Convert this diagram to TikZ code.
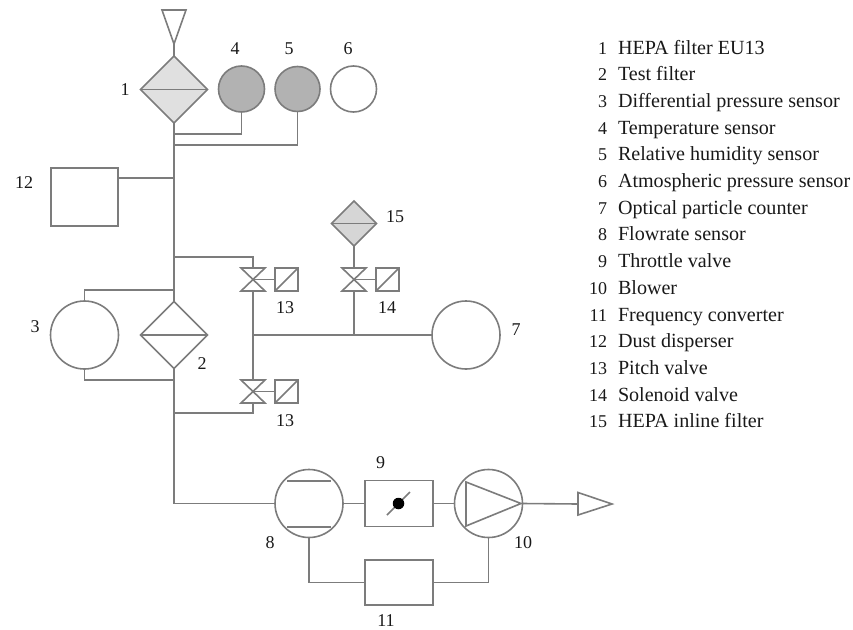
\documentclass[tikz,border=0pt]{standalone}
\usepackage{fontspec}
\setmainfont{Liberation Serif}
\usetikzlibrary{shapes.geometric,calc}
\definecolor{ln}{HTML}{7C7C7C}
\definecolor{lt}{HTML}{E0E0E0}
\definecolor{dk}{HTML}{B2B2B2}
\definecolor{md}{HTML}{D6D6D6}
\tikzset{
  every node/.style={inner sep=0pt,outer sep=0pt},
  wire/.style={draw=ln,line width=1.6pt,line join=miter},
  sym/.style={wire,fill=white},
  dia/.style={sym,diamond,shape aspect=1,minimum width=#1,minimum height=#1},
  circ/.style={sym,circle,minimum size=#1},
  boxn/.style={sym,rectangle,minimum width=#1},
  lab/.style={font=\fontsize{18}{20}\selectfont,text=black!90},
  legtext/.style={font=\fontsize{20.1}{22}\selectfont,text=black!90}
}
\newcommand{\valvesym}[1]{%
  \draw[wire] ($(#1)+(-12,-11.5)$) -- ($(#1)+(12,-11.5)$) -- ($(#1)+(-12,11.5)$) -- ($(#1)+(12,11.5)$) -- cycle;
}
\newcommand{\actsym}[1]{%
  \draw[wire] (#1.south west) -- (#1.north east);
}
\begin{document}
\begin{tikzpicture}[x=1pt,y=-1pt]
\useasboundingbox (0,0) rectangle (853,629);
% filters and sensors
\node[dia=67pt,fill=lt] (d1) at (174,89.5) {};
\draw[wire] (d1.west) -- (d1.east);
\node[circ=46pt,fill=dk] (s4) at (241.5,89) {};
\node[circ=45pt,fill=dk] (s5) at (297.5,89) {};
\node[circ=46pt] (s6) at (353.5,89) {};
\node[boxn=67pt,minimum height=58pt] (b12) at (84.5,197) {};
\node[dia=67pt] (d2) at (174,335) {};
\draw[wire] (d2.west) -- (d2.east);
\node[circ=68pt] (s3) at (84.5,335) {};
\node[circ=68pt] (s7) at (466,335) {};
\node[dia=45pt,fill=md] (d15) at (354,223.5) {};
\draw[wire] (d15.west) -- (d15.east);
% top inlet triangle
\coordinate (tp) at (174,44);
\draw[wire] (162,10) -- (186,10) -- (tp) -- cycle;
\draw[wire] (tp) -- (d1.north);
% valves
\coordinate (v1) at (253,279.5);
\coordinate (v2) at (253,391.5);
\coordinate (v3) at (354,279.5);
\valvesym{v1}\valvesym{v2}\valvesym{v3}
\node[boxn=23pt,minimum height=23pt] (a1) at (286.5,279.5) {};
\node[boxn=23pt,minimum height=23pt] (a2) at (286.5,391.5) {};
\node[boxn=23pt,minimum height=23pt] (a3) at (387.5,279.5) {};
\actsym{a1}\actsym{a2}\actsym{a3}
\draw[wire] (v1) -- (a1.west);
\draw[wire] (v2) -- (a2.west);
\draw[wire] (v3) -- (a3.west);
% bottom train
\node[circ=68pt] (s8) at (309,503.5) {};
\draw[wire] (287,481) -- (331,481);
\draw[wire] (287,527) -- (331,527);
\node[boxn=68pt,minimum height=46pt] (b9) at (399,503.5) {};
\draw[wire] (387,515) -- (410,492);
\node[circle,fill=black,minimum size=11.5pt] (dot) at (398.5,503.5) {};
\node[circ=68pt] (s10) at (488.5,503.5) {};
\draw[wire] (466,482) -- (521,503.5) -- (466,526) -- cycle;
\node[boxn=68pt,minimum height=45pt] (b11) at (399,582.5) {};
\coordinate (ot) at (578,504);
\draw[wire] (578,492.5) -- (612,504) -- (578,515) -- cycle;
% connectors
\coordinate (j1) at (174,134);
\coordinate (j2) at (174,145);
\coordinate (j3) at (174,178);
\coordinate (j4) at (174,257);
\coordinate (j5) at (174,290);
\coordinate (j6) at (174,380);
\coordinate (j7) at (174,413);
\coordinate (j8) at (253,335);
\draw[wire] (d1.south) -- (d2.north);
\draw[wire] (d2.south) |- (s8.west);
\draw[wire] (j1) -| (s4.south);
\draw[wire] (j2) -| (s5.south);
\draw[wire] (j3) -- (b12.east |- j3);
\draw[wire] (j4) -| ($(v1)+(0,-11.5)$);
\draw[wire] ($(v1)+(0,11.5)$) -- ($(v2)+(0,-11.5)$);
\draw[wire] ($(v2)+(0,11.5)$) |- (j7);
\draw[wire] (s3.north) |- (j5);
\draw[wire] (s3.south) |- (j6);
\draw[wire] (j8) -- (s7.west);
\draw[wire] (d15.south) -- ($(v3)+(0,-11.5)$);
\draw[wire] ($(v3)+(0,11.5)$) -- (v3 |- j8);
\draw[wire] (s8.east) -- (b9.west);
\draw[wire] (b9.east) -- (s10.west);
\draw[wire] (s10.east) -- (ot);
\draw[wire] (s8.south) |- (b11.west);
\draw[wire] (b11.east) -| (s10.south);
% labels
\foreach \nm/\t/\x/\y in {n1/1/125/90,n4/4/235/49,n5/5/289/49,n6/6/348/49,n12/12/24/183,n3/3/35/327,n2/2/202/364,n13a/13/285/308,n14/14/387/308,n15/15/395/216.5,n7/7/516/330,n13b/13/285/421,n9/9/380.5/463,n8/8/270/543,n10/10/523/543,n11/11/386/620.5}
  \node[lab] (\nm) at (\x,\y) {\t};
% legend
\foreach \i/\t in {1/HEPA filter EU13,2/Test filter,3/Differential pressure sensor,4/Temperature sensor,5/Relative humidity sensor,6/Atmospheric pressure sensor,7/Optical particle counter,8/Flowrate sensor,9/Throttle valve,10/Blower,11/Frequency converter,12/Dust disperser,13/Pitch valve,14/Solenoid valve,15/HEPA inline filter}{
  \pgfmathsetmacro{\yy}{54.3+26.67*(\i-1)}
  \node[lab,anchor=base east] (ln\i) at (607,\yy) {\i};
  \node[legtext,anchor=base west] (lt\i) at (618,\yy) {\t};
}
\end{tikzpicture}
\end{document}
